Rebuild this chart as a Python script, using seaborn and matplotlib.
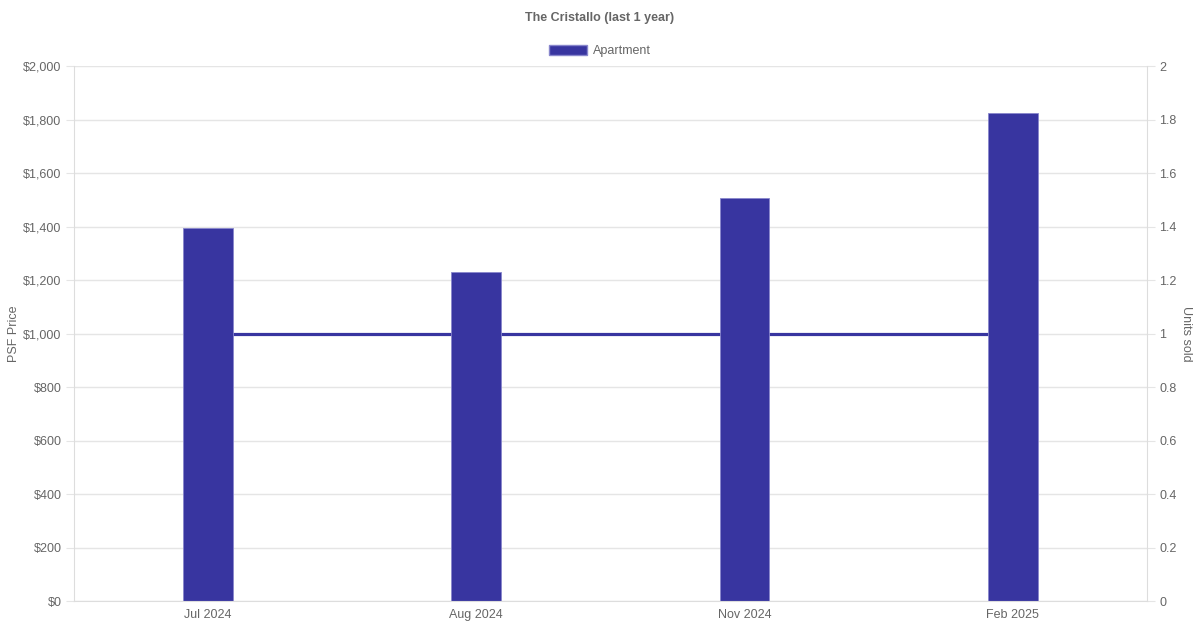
import matplotlib

matplotlib.use("Agg")

import matplotlib.pyplot as plt
import pandas as pd
import seaborn as sns
from matplotlib.patches import Patch
from matplotlib.ticker import FuncFormatter

months = ["Jul 2024", "Aug 2024", "Nov 2024", "Feb 2025"]
psf_price = [1394, 1230, 1506, 1824]
units_sold = [1, 1, 1, 1]

BAR = "#3835a0"
TXT = "#666666"
GRID = "#e5e5e5"


def main():
    sns.set_theme(style="white")
    plt.rcParams["font.family"] = ["Liberation Sans", "DejaVu Sans"]

    df = pd.DataFrame({"month": months, "psf": psf_price, "units": units_sold})

    fig = plt.figure(figsize=(12, 6.3), dpi=100)
    ax = fig.add_axes([0.0617, 0.046, 0.894, 0.8492])
    ax2 = ax.twinx()

    # line on the secondary axis, drawn beneath the bars
    ax2.plot(range(len(months)), df["units"], color=BAR, lw=2.3, zorder=1)
    ax2.set_ylim(0, 2)
    ax2.set_yticks([0, 0.2, 0.4, 0.6, 0.8, 1, 1.2, 1.4, 1.6, 1.8, 2])
    ax2.set_yticklabels(["0", "0.2", "0.4", "0.6", "0.8", "1", "1.2", "1.4", "1.6", "1.8", "2"])
    ax2.set_ylabel("Units sold", rotation=270, labelpad=11, color=TXT, fontsize=9)

    sns.barplot(data=df, x="month", y="psf", color=BAR, width=0.186,
                saturation=1, edgecolor="#8886cc", linewidth=0.6, ax=ax)
    ax.set_zorder(ax2.get_zorder() + 1)
    ax.patch.set_visible(False)
    ax.set_xlim(-0.5, len(months) - 0.5)
    ax.set_ylim(0, 2000)
    ax.set_yticks(range(0, 2001, 200))
    ax.yaxis.set_major_formatter(FuncFormatter(lambda v, _: f"${v:,.0f}"))
    ax.set_xlabel("")
    ax.set_ylabel("PSF Price", color=TXT, fontsize=9, labelpad=2)

    # grid lives on the back axis so it sits behind everything
    ax2.grid(axis="y", color=GRID, lw=1)
    ax2.set_axisbelow(True)

    for a in (ax, ax2):
        a.spines["top"].set_visible(False)
        for side in ("left", "right", "bottom"):
            a.spines[side].set_color("#dddddd")
            a.spines[side].set_linewidth(0.8)
        a.tick_params(axis="y", colors=TXT, labelsize=9, length=6, width=0.8,
                      color=GRID, pad=3)
        a.tick_params(axis="x", colors=TXT, labelsize=9, length=0, pad=6)
    ax.spines["right"].set_visible(False)
    ax2.spines["left"].set_visible(False)
    ax2.spines["bottom"].set_visible(False)
    ax.tick_params(axis="y", left=True)
    ax2.tick_params(axis="y", right=True)

    fig.text(0.5, 0.971, "The Cristallo (last 1 year)", ha="center", va="center",
             fontsize=9, fontweight="bold", color=TXT)
    fig.legend(handles=[Patch(facecolor=BAR, edgecolor="#8886cc", label="Apartment")],
               loc="center", bbox_to_anchor=(0.5, 0.919), frameon=False,
               handlelength=3.0, handleheight=0.85, handletextpad=0.5,
               fontsize=9, labelcolor=TXT)

    fig.savefig("out.png", dpi=100)
    plt.close(fig)


if __name__ == "__main__":
    main()
